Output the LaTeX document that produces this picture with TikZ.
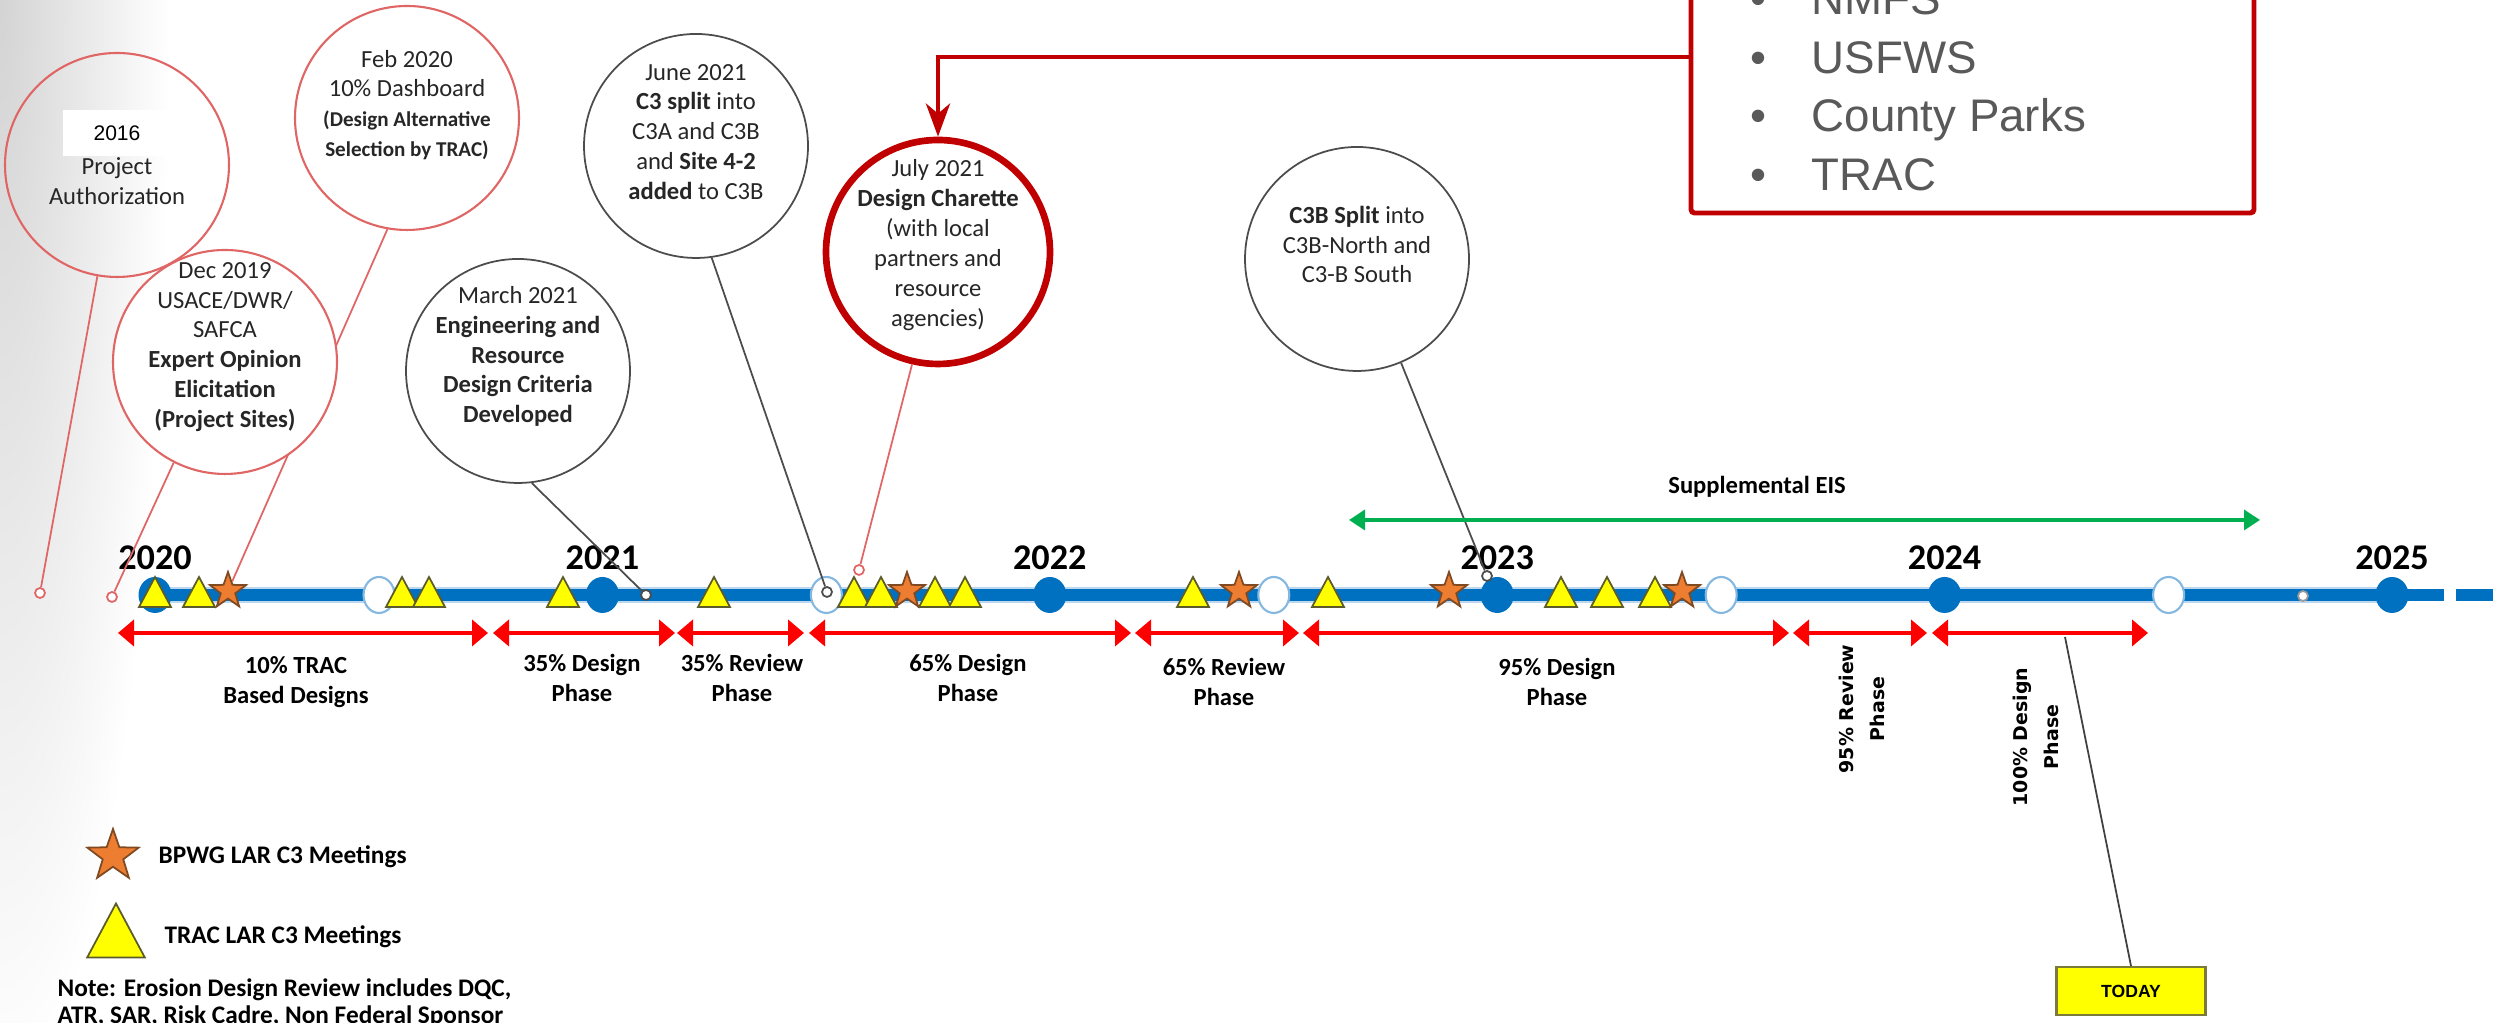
\documentclass[tikz,border=0pt]{standalone}
\usepackage{fontspec}
\setmainfont{Carlito}
\newfontfamily\arialfont{Liberation Sans}
\newfontfamily\verdfont{DejaVu Sans}
\usetikzlibrary{positioning,arrows.meta,shapes.geometric,backgrounds}
\definecolor{tlblue}{HTML}{0070C0}
\definecolor{tlhalo}{HTML}{BDD7EE}
\definecolor{ringred}{HTML}{E06666}
\definecolor{calloutred}{HTML}{C00000}
\definecolor{staror}{HTML}{ED7D31}
\definecolor{staredge}{HTML}{7F4A22}
\definecolor{tracyel}{HTML}{FFFF00}
\definecolor{tracedge}{HTML}{5C5C2A}
\definecolor{phasered}{HTML}{FF0000}
\definecolor{eisgreen}{HTML}{00B050}
\definecolor{agencygray}{HTML}{595959}
\definecolor{todayedge}{HTML}{7A7A3A}
\newcommand\smallbold[1]{{\bfseries\fontsize{6}{8.2}\selectfont #1}}

\begin{document}
\begin{tikzpicture}[>=Latex,
  ring/.style={circle, minimum size=2.24cm, inner sep=0pt},
  redring/.style={ring, draw=ringred, line width=0.6pt, fill=white},
  grayring/.style={ring, draw=black!70, line width=0.5pt, fill=white},
  evtext/.style={align=center, text=black!85, font=\fontsize{7}{8.5}\selectfont},
  tack/.style={circle, draw=#1, fill=white, inner sep=0pt, minimum size=0.1cm, line width=0.5pt},
  tackline/.style={draw=#1, line width=0.5pt},
  yeardot/.style={ellipse, fill=tlblue, inner sep=0pt, minimum width=0.33cm, minimum height=0.36cm},
  halfdot/.style={ellipse, draw=tlhalo!70!tlblue, fill=white, inner sep=0pt, minimum width=0.31cm, minimum height=0.36cm, line width=0.6pt},
  yearlbl/.style={font=\bfseries\fontsize{10.3}{12}\selectfont},
  bpwg/.style={star, star points=5, star point ratio=2.5, fill=staror, draw=staredge, line width=0.5pt, inner sep=0pt, minimum size=#1},
  trac/.pic={\draw[fill=tracyel, draw=tracedge, line width=0.5pt] (-0.16,-0.15) -- (0.16,-0.15) -- (0,0.15) -- cycle;},
  phasearrow/.style={<->, draw=phasered, line width=1.1pt, >={Triangle[length=0.16cm, width=0.26cm]}},
  phaselbl/.style={align=center, font=\bfseries\fontsize{7}{8.5}\selectfont},
  sidelbl/.style={rotate=90, align=center, font=\verdfont\bfseries\fontsize{5.4}{8.8}\selectfont},
  agency/.style={anchor=base west, inner sep=0pt, text=agencygray, font=\arialfont\fontsize{13}{15}\selectfont},
  legtxt/.style={anchor=west, inner sep=0pt, font=\bfseries\fontsize{7.2}{8.5}\selectfont},
]
  \useasboundingbox (0,0) rectangle (24.96,10.23);
  \clip (0,0) rectangle (24.96,10.23);

  \node[redring, fill=none] (c1) at (1.17,8.58) {};
  \node[fill=white, minimum width=1.08cm, minimum height=0.46cm, inner sep=0pt, font=\arialfont\fontsize{6}{7}\selectfont] (c1yr) at (1.17,8.90) {2016};
  \node[evtext] (c1t) at (1.17,8.42) {Project\\Authorization};
  \node[redring] (c2) at (4.07,9.05) {};
  \node[evtext] (c2t) at (4.07,9.18) {Feb 2020\\10\% Dashboard\\\smallbold{(Design Alternative}\\\smallbold{Selection by TRAC)}};
  \node[redring] (c3) at (2.25,6.61) {};
  \node[evtext] (c3t) at (2.25,6.76) {Dec 2019\\USACE/DWR/\\SAFCA\\\textbf{Expert Opinion}\\\textbf{Elicitation}\\\textbf{(Project Sites)}};
  \node[grayring] (c4) at (5.18,6.52) {};
  \node[evtext] (c4t) at (5.18,6.665) {March 2021\\\textbf{Engineering and}\\\textbf{Resource}\\\textbf{Design Criteria}\\\textbf{Developed}};
  \node[grayring] (c5) at (6.96,8.77) {};
  \node[evtext] (c5t) at (6.96,8.91) {June 2021\\\textbf{C3 split} into\\C3A and C3B\\and \textbf{Site 4-2}\\\textbf{added} to C3B};
  \node[ring, draw=calloutred, line width=1.9pt, fill=white] (c6) at (9.38,7.71) {};
  \node[evtext] (c6t) at (9.38,7.78) {July 2021\\\textbf{Design Charette}\\(with local\\partners and\\resource\\agencies)};
  \node[grayring] (c7) at (13.57,7.64) {};
  \node[evtext] (c7t) at (13.57,7.785) {\textbf{C3B Split} into\\C3B-North and\\C3-B South};

  \draw[line width=4.8pt, tlhalo] (1.45,4.28) -- (23.95,4.28);
  \draw[line width=3.5pt, tlblue] (1.45,4.28) -- (23.95,4.28);
  \draw[line width=3.5pt, tlblue, dash pattern=on 0.37cm off 0.12cm] (24.07,4.28) -- (24.96,4.28);
  \foreach \yr [count=\i from 0] in {2020,...,2025} {
    \node[yeardot] (y\yr) at ({1.55+4.474*\i},4.28) {};
    \node[yearlbl] (l\yr) at ({1.55+4.474*\i},4.65) {\yr};
  }
  \foreach \i in {0,...,4}
    \node[halfdot] (h\i) at ({3.79+4.474*\i},4.28) {};
  \foreach \x in {1.55,1.99,4.02,4.29,5.63,7.14,8.54,8.81,9.35,9.65,11.93,13.28,15.61,16.07,16.55}
    \pic at (\x,4.31) {trac};
  \foreach \x [count=\i] in {2.28,9.07,12.39,14.49,16.82}
    \node[bpwg=0.38cm] (s\i) at (\x,4.32) {};

  \node[tack=ringred] (p1) at (0.40,4.30) {};
  \node[tack=ringred] (p2) at (1.12,4.26) {};
  \node[tack=black!70] (p4) at (6.46,4.28) {};
  \node[tack=black!70] (p5) at (8.27,4.31) {};
  \node[tack=ringred] (p6) at (8.59,4.53) {};
  \node[tack=black!70] (p7) at (14.87,4.47) {};
  \node[tack=black!40] (p8) at (23.03,4.27) {};
  \draw[tackline=ringred] (c1.260) -- (p1);
  \draw[tackline=ringred] (c3.243) -- (p2);
  \draw[tackline=black!70] (c4.277) -- (p4);
  \draw[tackline=black!70] (c5.278) -- (p5);
  \draw[tackline=ringred] (c6.257) -- (p6);
  \draw[tackline=black!70] (c7.293) -- (p7);

  \draw[phasearrow] (1.18,3.90) -- (4.88,3.90);
  \draw[phasearrow] (4.93,3.90) -- (6.75,3.90);
  \draw[phasearrow] (6.77,3.90) -- (8.04,3.90);
  \draw[phasearrow] (8.09,3.90) -- (11.31,3.90);
  \draw[phasearrow] (11.35,3.90) -- (12.99,3.90);
  \draw[phasearrow] (13.03,3.90) -- (17.89,3.90);
  \draw[phasearrow] (17.93,3.90) -- (19.27,3.90);
  \draw[phasearrow] (19.32,3.90) -- (21.48,3.90);
  \node[phaselbl] (ph1) at (2.96,3.41) {10\% TRAC\\Based Designs};
  \node[phaselbl] (ph2) at (5.82,3.45) {35\% Design\\Phase};
  \node[phaselbl] (ph3) at (7.42,3.45) {35\% Review\\Phase};
  \node[phaselbl] (ph4) at (9.68,3.45) {65\% Design\\Phase};
  \node[phaselbl] (ph5) at (12.24,3.41) {65\% Review\\Phase};
  \node[phaselbl] (ph6) at (15.57,3.41) {95\% Design\\Phase};
  \node[sidelbl] (ph7) at (18.62,3.14) {95\% Review\\Phase};
  \node[sidelbl] (ph8) at (20.36,2.86) {100\% Design\\Phase};

  \draw[<->, eisgreen, line width=1pt, >={Triangle[length=0.16cm, width=0.2cm]}] (13.49,5.03) -- (22.60,5.03);
  \node[phaselbl] (eis) at (17.57,5.36) {Supplemental EIS};

  \node[draw=calloutred, line width=1.4pt, rounded corners=1pt, minimum width=5.63cm, minimum height=2.6cm] (agbox) at (19.725,9.40) {};
  \foreach \ag [count=\i] in {NMFS,USFWS,County Parks,TRAC}
    \node[agency] (ag\i) at (17.50,{10.08-0.585*(\i-1)}) {\makebox[0.61cm][l]{\textbullet}\ag};
  \coordinate (callout) at (16.91,9.66);
  \draw[->, calloutred, line width=1.4pt, >={Stealth[length=0.33cm, width=0.24cm, inset=0.1cm]}] (callout) -| (c6.north);

  \node[draw=todayedge, fill=tracyel, line width=0.6pt, minimum width=1.49cm, minimum height=0.48cm, font=\arialfont\bfseries\fontsize{5}{6}\selectfont] (today) at (21.31,0.32) {TODAY};
  \coordinate (todaymark) at (20.65,3.86);
  \draw[black!75, line width=0.5pt] (today.north) -- (todaymark);

  \node[bpwg=0.54cm] (lgstar) at (1.13,1.67) {};
  \node[legtxt] (lgstartxt) at (1.58,1.66) {BPWG LAR C3 Meetings};
  \pic[scale=1.8] at (1.16,0.925) {trac};
  \node[legtxt] (lgtractxt) at (1.64,0.86) {TRAC LAR C3 Meetings};
  \node[legtxt] (note1) at (0.57,0.33) {Note: Erosion Design Review includes DQC,};
  \node[legtxt] (note2) at (0.57,0.06) {ATR, SAR, Risk Cadre, Non Federal Sponsor};

  \begin{scope}[on background layer]
    \clip (0,0) rectangle (24.96,10.23);
    \shade[inner color=black!17, outer color=white] (-1.7,-0.8) rectangle (1.7,21.2);
    \draw[tackline=ringred] (c2.260) -- (s1);
  \end{scope}
\end{tikzpicture}
\end{document}
